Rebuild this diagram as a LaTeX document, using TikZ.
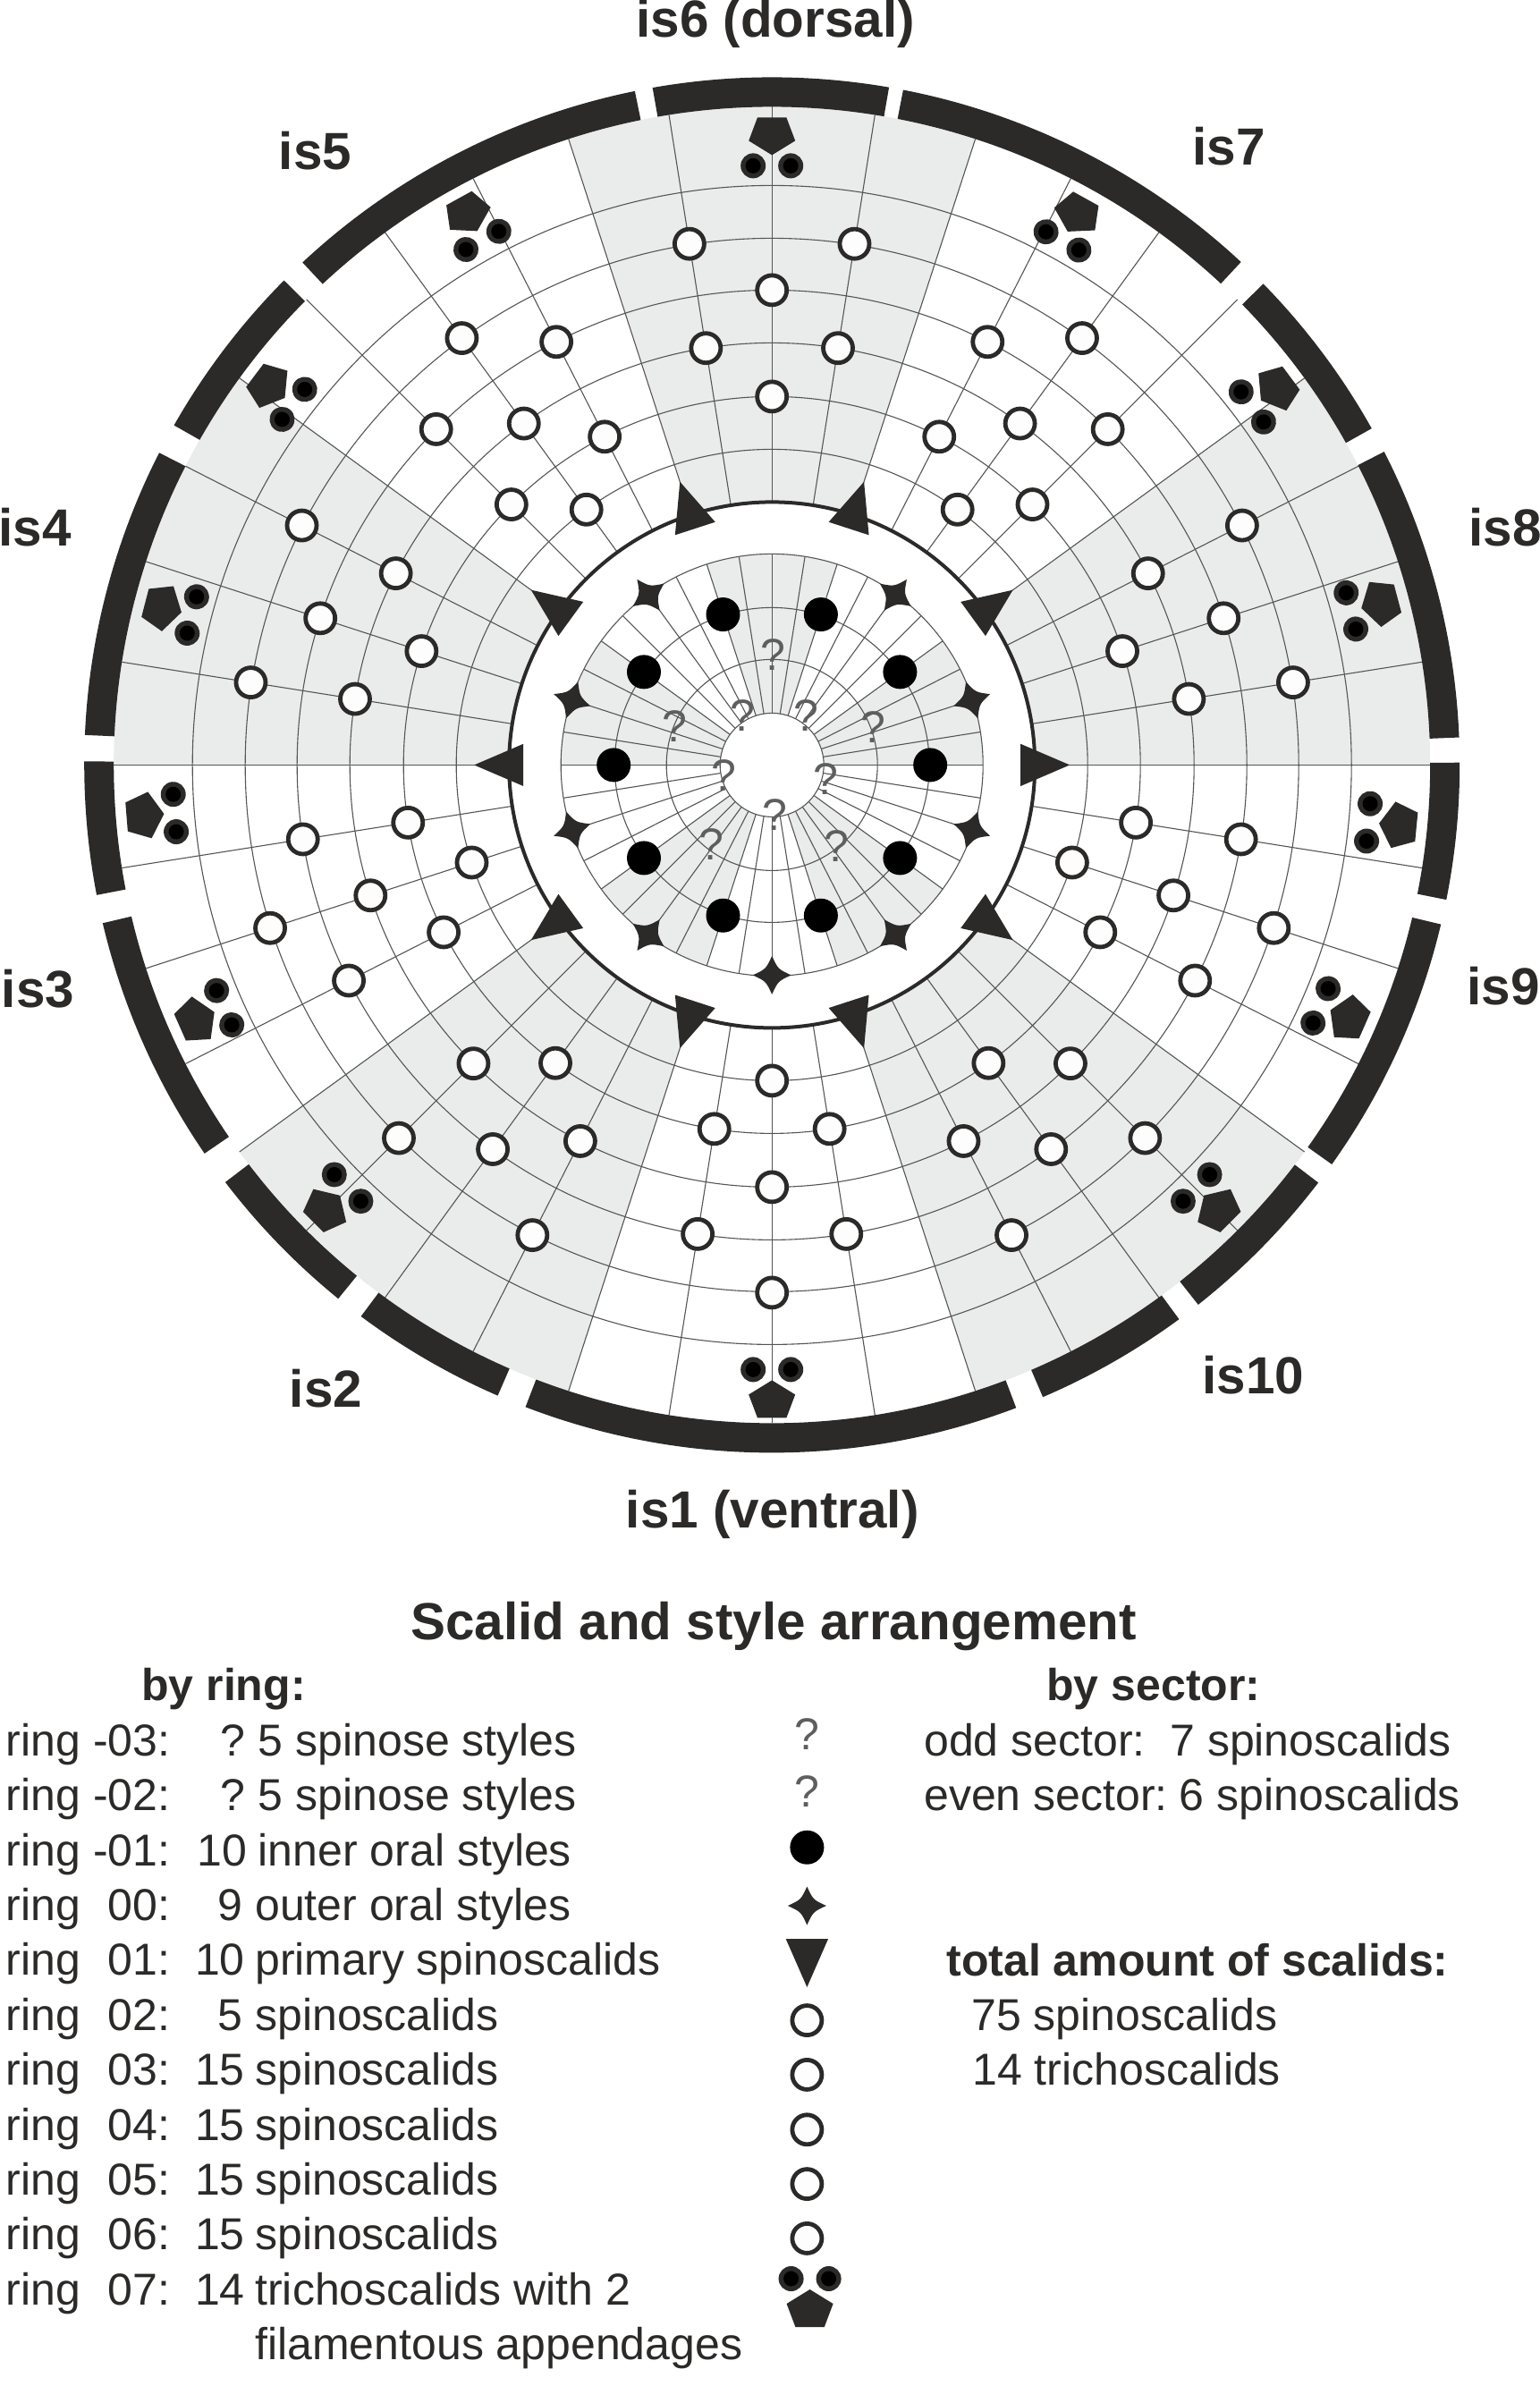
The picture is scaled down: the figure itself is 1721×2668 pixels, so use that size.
\documentclass[tikz,border=0pt]{standalone}
\usepackage{fontspec}
\setmainfont{Liberation Sans}
\definecolor{ink}{HTML}{2B2A29}
\definecolor{sectorgrey}{HTML}{EAECEB}
\definecolor{gridgrey}{HTML}{555555}
\definecolor{quest}{HTML}{5E5E5E}
\definecolor{pale}{HTML}{FDFDFD}
\tikzset{
  sectorfill/.style={fill=sectorgrey},
  gridline/.style={draw=gridgrey,line width=0.55pt},
  bandpart/.style={fill=ink},
  spino/.style={draw=ink,fill=pale,line width=2.4pt},
  oralstyle/.style={fill=black},
  ringlabel/.style={anchor=base west,inner sep=0pt,text=ink,font=\fontsize{29.2pt}{34pt}\selectfont\bfseries},
  legendtext/.style={anchor=base west,inner sep=0pt,text=ink,font=\fontsize{25pt}{30pt}\selectfont},
  legendhead/.style={anchor=base west,inner sep=0pt,text=ink,font=\fontsize{25pt}{30pt}\selectfont\bfseries},
  questmark/.style={inner sep=0pt,text=quest,font=\fontsize{25pt}{30pt}\selectfont},
  fourstar/.pic={\fill[ink] (21.5,0) .. controls (6.8,6.8) .. (0,21.5) .. controls (-6.8,6.8) .. (-21.5,0)
     .. controls (-6.8,-6.8) .. (0,-21.5) .. controls (6.8,-6.8) .. cycle;},
  spine/.pic={\fill[ink] (333,0) -- (278,23.6) -- (278,-23.6) -- cycle;},
  triplet/.pic={
    \fill[ink] (682,0) -- (698,26) -- (724,16.2) -- (724,-16.2) -- (698,-26) -- cycle;
    \foreach \t in {-21,21}{
      \fill[ink] (670,\t) circle[radius=14];
      \fill[black] (670,\t) circle[radius=8.5];
    }
  },
}
\begin{document}
\begin{tikzpicture}[x=0.5pt,y=0.5pt]
\useasboundingbox (-863.2,855.4) rectangle (857.8,-1812.6);
\fill[white] (-863.2,855.4) rectangle (857.8,-1812.6);

% shaded even sectors, outer field
\foreach \a in {0,72,144,216,288}
  \fill[sectorfill] (0,0) -- (\a:736) arc[start angle=\a,end angle=\a+36,radius=736] -- cycle;

% outer grid: radial lines every 9 degrees and the concentric rings
\foreach \a in {0,9,...,351}
  \draw[gridline] (\a:294) -- (\a:736);
\foreach \r in {353,412,472,531,589,648}
  \draw[gridline] (0,0) circle[radius=\r];

% segmented body wall
\foreach \s/\e in {80.2/100,101.5/133.05,135.2/150.4,153/177.5,179.7/190.9,193.3/214.4,217.35/230.9,
                   233.3/246.5,249/290.8,293.2/306.3,308.3/322.6,324.5/346.6,348.7/360.2,2.3/27.1,29.3/44.4,47/79}
  \fill[bandpart] (\s:769) arc[start angle=\s,end angle=\e,radius=769] -- (\e:736)
                  arc[start angle=\e,end angle=\s,radius=736] -- cycle;

% mouth cone disc
\fill[white] (0,0) circle[radius=294];
\draw[ink,line width=2pt] (0,0) circle[radius=294];

% shaded sectors and grid of the oral field
\foreach \a in {0,72,144,216,288}
  \fill[sectorfill] (0,0) -- (\a:236) arc[start angle=\a,end angle=\a+36,radius=236] -- cycle;
\foreach \a in {0,9,...,351}
  \draw[gridline] (\a:58) -- (\a:236);
\foreach \r in {118,176,236}
  \draw[gridline] (0,0) circle[radius=\r];
\draw[gridline,fill=white] (0,0) circle[radius=58];

% primary spinoscalids
\foreach \a in {0,36,...,324}
  \pic[rotate=\a] {spine};

% outer oral styles (none on the dorsal midline)
\foreach \a in {18,54,126,162,198,234,270,306,342}
  \pic[rotate=\a] at (\a:235) {fourstar};

% inner oral styles
\foreach \a in {0,36,...,324}
  \fill[oralstyle] (\a:177) circle[radius=19];

% spinoscalids of even sectors
\foreach \c in {18,90,162,234,306}{
  \draw[spino] (\c:412) circle[radius=16.5];
  \draw[spino] (\c:531) circle[radius=16.5];
  \foreach \d in {-9,9}{
    \draw[spino] (\c+\d:472) circle[radius=16.5];
    \draw[spino] (\c+\d:590) circle[radius=16.5];
  }
}
% spinoscalids of odd sectors
\foreach \c in {54,126,198,270,342}{
  \draw[spino] (\c:353) circle[radius=16.5];
  \draw[spino] (\c:472) circle[radius=16.5];
  \draw[spino] (\c:590) circle[radius=16.5];
  \foreach \d in {-9,9}{
    \draw[spino] (\c+\d:412) circle[radius=16.5];
    \draw[spino] (\c+\d:531) circle[radius=16.5];
  }
}

% trichoscalids
\foreach \a in {90,61,36.7,14.9,-5.5,-23.7,-44.9,224.9,203.9,184.6,165.5,143,118.9}
  \pic[rotate=\a] {triplet};
\pic[rotate=-90] at (0,-6) {triplet};

% symbols of the legend column
\fill[oralstyle] (39.2,-1210.3) circle[radius=19];
\pic at (39.2,-1275.6) {fourstar};
\fill[ink] (39.2,-1366.6) -- (62.8,-1312.8) -- (15.6,-1312.8) -- cycle;
\foreach \y in {-1403.7,-1464.5,-1525.9,-1586.7,-1647.5}
  \draw[spino] (39.2,\y) circle[radius=16.5];
\pic[rotate=-90] at (42.4,-1022.6) {triplet};

% everything typed below is placed in image coordinates, y downwards
\begin{scope}[x=0.5pt,y=-0.5pt,shift={(-863.2,-855.4)}]
  \node[questmark] (q1) at (864,732.5) {?};
  \node[questmark] (q2) at (976.9,813.4) {?};
  \node[questmark] (q3) at (935.6,945.9) {?};
  \node[questmark] (q4) at (795.5,944.2) {?};
  \node[questmark] (q5) at (754.6,812.5) {?};
  \node[questmark] (q6) at (830.4,799.9) {?};
  \node[questmark] (q7) at (901.1,799.9) {?};
  \node[questmark] (q8) at (923.8,871.4) {?};
  \node[questmark] (q9) at (866.2,910.6) {?};
  \node[questmark] (q10) at (809.4,867.2) {?};

  \node[ringlabel] (is6) at (711,42) {is6 (dorsal)};
  \node[ringlabel] (is7) at (1333,184.5) {is7};
  \node[ringlabel] (is5) at (311.5,190) {is5};
  \node[ringlabel] (is8) at (1642,610) {is8};
  \node[ringlabel] (is4) at (-2,610) {is4};
  \node[ringlabel] (is3) at (1.5,1126.7) {is3};
  \node[ringlabel] (is9) at (1640,1123) {is9};
  \node[ringlabel] (is2) at (323.5,1573.4) {is2};
  \node[ringlabel] (is10) at (1344,1558.7) {is10};
  \node[ringlabel] (is1) at (699.5,1708) {is1 (ventral)};

  \node[ringlabel] (legendtitle) at (459,1833) {Scalid and style arrangement};
  \node[legendhead] (byring) at (158,1901) {by ring:};
  \node[legendhead] (bysector) at (1170,1901.7) {by sector:};

  \foreach \k/\lab/\nx/\num/\dx/\desc [evaluate=\k as \yy using {1963.2+61.4*\k}] in {
     0/{ring -03:}/246.4/?/288.5/{5 spinose styles},
     1/{ring -02:}/246.4/?/288.5/{5 spinose styles},
     2/{ring -01:}/220.3/10/288.5/{inner oral styles},
     3/{ring \hphantom{-}00:}/243/9/285/{outer oral styles},
     4/{ring \hphantom{-}01:}/217.8/10/285/{primary spinoscalids},
     5/{ring \hphantom{-}02:}/243/5/285/{spinoscalids},
     6/{ring \hphantom{-}03:}/217.8/15/285/{spinoscalids},
     7/{ring \hphantom{-}04:}/217.8/15/285/{spinoscalids},
     8/{ring \hphantom{-}05:}/217.8/15/285/{spinoscalids},
     9/{ring \hphantom{-}06:}/217.8/15/285/{spinoscalids},
     10/{ring \hphantom{-}07:}/217.8/14/285/{trichoscalids with 2}}{
    \node[legendtext] (rowname\k) at (6.5,\yy) {\lab};
    \node[legendtext] (rownum\k) at (\nx,\yy) {\num};
    \node[legendtext] (rowtext\k) at (\dx,\yy) {\desc};
  }
  \node[legendtext] (rowtail) at (285,2638) {filamentous appendages};

  \node[questmark] (legq1) at (902.4,1939.5) {?};
  \node[questmark] (legq2) at (902.4,2003) {?};

  \node[legendtext] (oddname) at (1033,1963) {odd sector:};
  \node[legendtext] (oddval) at (1308,1963) {7 spinoscalids};
  \node[legendtext] (evenname) at (1033,2024.5) {even sector:};
  \node[legendtext] (evenval) at (1318.5,2024.5) {6 spinoscalids};
  \node[legendhead] (totalhead) at (1058,2209) {total amount of scalids:};
  \node[legendtext] (totalspino) at (1086,2270.5) {75 spinoscalids};
  \node[legendtext] (totaltricho) at (1087,2331.5) {14 trichoscalids};
\end{scope}
\end{tikzpicture}
\end{document}
